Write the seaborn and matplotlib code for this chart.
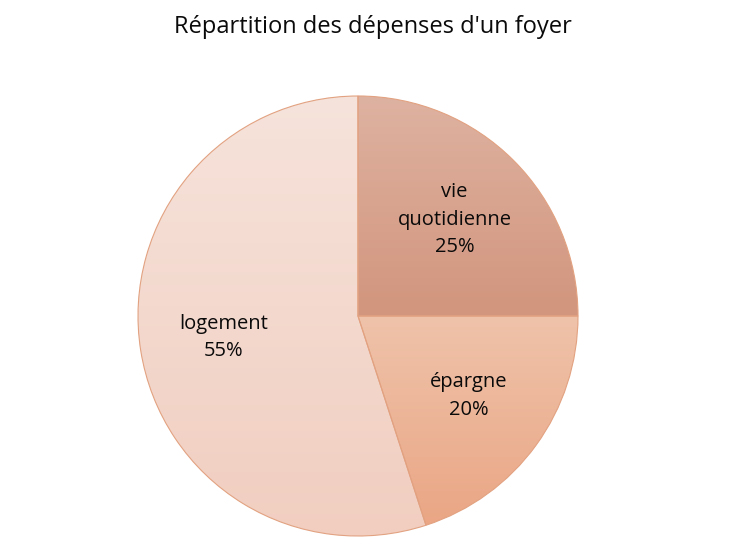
import numpy as np
import matplotlib
matplotlib.use("Agg")
import matplotlib.pyplot as plt
from matplotlib.colors import ListedColormap
import seaborn as sns

# data
categories = ["vie\nquotidienne", "épargne", "logement"]
values = [25, 20, 55]
# top / bottom colours of each slice gradient
top_colors = ["#DEB2A1", "#EFC3AA", "#F6E3DB"]
bottom_colors = ["#D2957D", "#EAA685", "#F1CEC0"]
title = "Répartition des dépenses d'un foyer"

sns.set_theme(style="white")
plt.rcParams['font.family'] = ['Open Sans', 'DejaVu Sans']

fig = plt.figure(figsize=(7.49, 5.39), dpi=100)
# pie centred at (358, 316) px, radius 220 px
ax = fig.add_axes([138 / 749, 3 / 539, 440 / 749, 440 / 539])

labels = [f"{c}\n{v}%" for c, v in zip(categories, values)]
wedges, texts = ax.pie(values, labels=labels, startangle=90, counterclock=False,
                       colors=top_colors, labeldistance=0.62,
                       wedgeprops=dict(edgecolor="#E2A281", linewidth=0.8),
                       textprops=dict(ha="center", va="center", fontsize=14.5, color="#0a0a0a",
                                      linespacing=1.5))

# vertical gradient fill inside each slice, spanning the slice's own height
for w, c1, c2 in zip(wedges, top_colors, bottom_colors):
    ext = w.get_path().get_extents()
    cmap = ListedColormap(sns.blend_palette([c2, c1], 256))
    grad = np.linspace(0, 1, 256).reshape(-1, 1)
    im = ax.imshow(grad, cmap=cmap, extent=(ext.x0, ext.x1, ext.y0, ext.y1), origin="lower",
                   aspect="auto", zorder=0.5)
    im.set_clip_path(w)
    w.set_facecolor("none")
    w.set_zorder(1)

for t in texts:
    t.set_zorder(3)

ax.set_xlim(-1, 1)
ax.set_ylim(-1, 1)
ax.set_aspect("equal")
ax.axis("off")

fig.text(373 / 749, 1 - 27 / 539, title, ha="center", va="center", fontsize=17, color="#0a0a0a")

fig.savefig("out.png", dpi=100, facecolor="white")
